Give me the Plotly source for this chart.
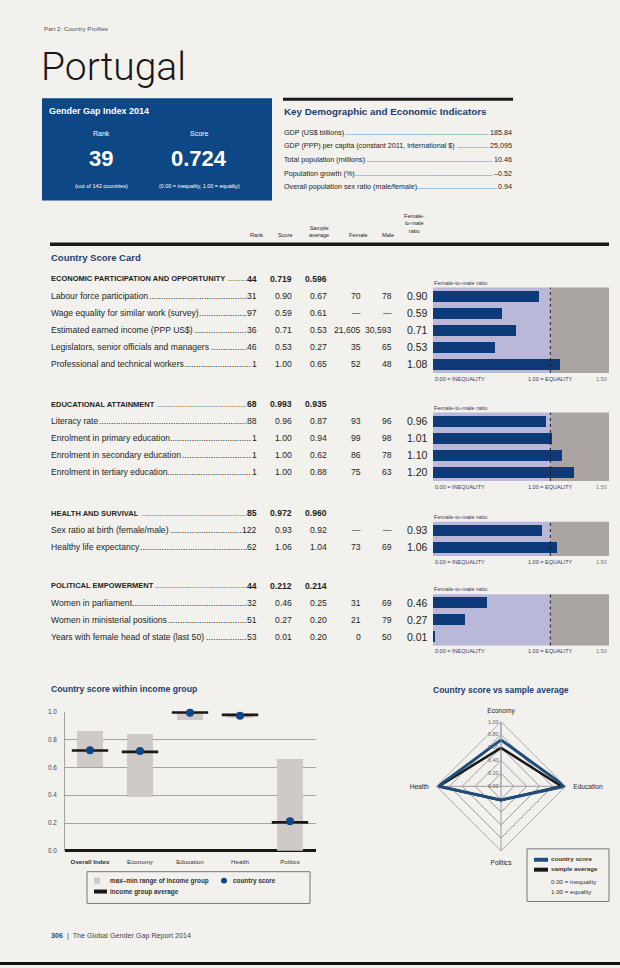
import plotly.graph_objects as go

W, H = 620, 968
BG = "#f2f1ee"
NAVY = "#0e4785"
BARNAVY = "#0d3b7a"
HEAD = "#1b3f6e"
TXT = "#231f20"
LAV = "#b9b8d8"
TAUPE = "#aaa4a2"
FONT = "Liberation Sans, Arial, sans-serif"

# ---------------- data ----------------
country = "Portugal"
ggi_rank = "39"
ggi_score = "0.724"

indicator_labels = ["GDP (US$ billions)", "GDP (PPP) per capita (constant 2011, international $)",
                    "Total population (millions)", "Population growth (%)",
                    "Overall population sex ratio (male/female)"]
indicator_values = ["185.84", "25,095", "10.46", "–0.52", "0.94"]

section_names = ["ECONOMIC PARTICIPATION AND OPPORTUNITY", "EDUCATIONAL ATTAINMENT",
                 "HEALTH AND SURVIVAL", "POLITICAL EMPOWERMENT"]
section_rank = ["44", "68", "85", "44"]
section_score = ["0.719", "0.993", "0.972", "0.212"]
section_avg = ["0.596", "0.935", "0.960", "0.214"]

econ_labels = ["Labour force participation", "Wage equality for similar work (survey)",
               "Estimated earned income (PPP US$)", "Legislators, senior officials and managers",
               "Professional and technical workers"]
econ_rank = ["31", "97", "36", "46", "1"]
econ_score = ["0.90", "0.59", "0.71", "0.53", "1.00"]
econ_avg = ["0.67", "0.61", "0.53", "0.27", "0.65"]
econ_female = ["70", "—", "21,605", "35", "52"]
econ_male = ["78", "—", "30,593", "65", "48"]
econ_ratio = [0.90, 0.59, 0.71, 0.53, 1.08]

edu_labels = ["Literacy rate", "Enrolment in primary education",
              "Enrolment in secondary education", "Enrolment in tertiary education"]
edu_rank = ["88", "1", "1", "1"]
edu_score = ["0.96", "1.00", "1.00", "1.00"]
edu_avg = ["0.87", "0.94", "0.62", "0.88"]
edu_female = ["93", "99", "86", "75"]
edu_male = ["96", "98", "78", "63"]
edu_ratio = [0.96, 1.01, 1.10, 1.20]

health_labels = ["Sex ratio at birth (female/male)", "Healthy life expectancy"]
health_rank = ["122", "62"]
health_score = ["0.93", "1.06"]
health_avg = ["0.92", "1.04"]
health_female = ["—", "73"]
health_male = ["—", "69"]
health_ratio = [0.93, 1.06]

pol_labels = ["Women in parliament", "Women in ministerial positions",
              "Years with female head of state (last 50)"]
pol_rank = ["32", "51", "53"]
pol_score = ["0.46", "0.27", "0.01"]
pol_avg = ["0.25", "0.20", "0.20"]
pol_female = ["31", "21", "0"]
pol_male = ["69", "79", "50"]
pol_ratio = [0.46, 0.27, 0.01]

# income group chart
ig_categories = ["Overall Index", "Economy", "Education", "Health", "Politics"]
ig_min = [0.607, 0.387, 0.944, 0.955, 0.0]
ig_max = [0.864, 0.845, 1.0, 0.988, 0.664]
ig_avg = [0.722, 0.712, 0.995, 0.978, 0.205]
ig_country = [0.724, 0.719, 0.993, 0.972, 0.212]

# radar
radar_axes = ["Economy", "Education", "Politics", "Health"]
radar_country = [0.719, 0.993, 0.212, 0.972]
radar_average = [0.596, 0.935, 0.214, 0.960]

# ---------------- text metrics (Arial / Liberation Sans, per 1000 em) ----------------
_REG = {" ": 278, "!": 278, "$": 556, "%": 889, "(": 333, ")": 333, ",": 278, "-": 333, ".": 278,
        "/": 278, ":": 278, "–": 556, "—": 1000,
        "A": 667, "B": 667, "C": 722, "D": 722, "E": 667, "F": 611, "G": 778, "H": 722, "I": 278,
        "J": 500, "K": 667, "L": 556, "M": 833, "N": 722, "O": 778, "P": 667, "Q": 778, "R": 722,
        "S": 667, "T": 611, "U": 722, "V": 667, "W": 944, "X": 667, "Y": 667, "Z": 611,
        "a": 556, "b": 556, "c": 500, "d": 556, "e": 556, "f": 278, "g": 556, "h": 556, "i": 222,
        "j": 222, "k": 500, "l": 222, "m": 833, "n": 556, "o": 556, "p": 556, "q": 556, "r": 333,
        "s": 500, "t": 278, "u": 556, "v": 500, "w": 722, "x": 500, "y": 500, "z": 500}
_BOLD = dict(_REG)
_BOLD.update({"A": 722, "B": 722, "J": 556, "K": 722, "L": 611, "(": 333, ")": 333})


def tw(s, size, bold=False):
    tab = _BOLD if bold else _REG
    return sum(tab.get(c, 556) for c in s) * size / 1000.0


# ---------------- helpers ----------------
ann = []
shapes = []


def px(x):
    return x / W


def py(y):
    return 1 - y / H


def txt(x, y, s, size, color=TXT, anchor="left", yanchor="middle", family=FONT, weight=None):
    f = dict(size=size, color=color, family=family)
    if weight:
        f["weight"] = weight
    ann.append(dict(x=px(x), y=py(y), xref="paper", yref="paper", text=s, showarrow=False,
                    xanchor=anchor, yanchor=yanchor, borderpad=0, font=f))


def rect(x0, y0, x1, y1, fill=None, line=None, lw=0, layer="below"):
    shapes.append(dict(type="rect", xref="paper", yref="paper", x0=px(x0), x1=px(x1),
                       y0=py(y1), y1=py(y0), fillcolor=fill or "rgba(0,0,0,0)",
                       line=dict(color=line or "rgba(0,0,0,0)", width=lw), layer=layer))


def hline(x0, x1, y, color, w):
    shapes.append(dict(type="line", xref="paper", yref="paper", x0=px(x0), x1=px(x1),
                       y0=py(y), y1=py(y), line=dict(color=color, width=w)))


def leader(x_label, x_right, y, label, value, size, bold=False, vsize=None, color=TXT):
    vsize = vsize or size
    lab = f"<b>{label}</b>" if bold else label
    val = f"<b>{value}</b>" if bold else value
    txt(x_label, y, lab, size, color=color, anchor="left")
    txt(x_right, y, val, vsize, color=color, anchor="right")
    lab_end = x_label + tw(label, size, bold) + 1.5
    val_start = x_right - tw(value, vsize, bold) - 0.8
    dot = tw(".", size, False)
    n = int((val_start - lab_end) / dot)
    if n > 0:
        txt(val_start, y, "." * n, size, color=color, anchor="right")


# ---------------- header ----------------
txt(43, 25, "Part 2: Country Profiles", 6.2, color="#55504f")
txt(40, 63, country, 39, color="#1a1717", family="Roboto, Liberation Sans, sans-serif", weight=300)

rect(42, 95, 272, 198, fill=NAVY)
txt(48, 108, "<b>Gender Gap Index 2014</b>", 9, color="white")
txt(101, 130, "Rank", 7, color="white", anchor="center")
txt(199, 130, "Score", 7, color="white", anchor="center")
txt(101, 156, f"<b>{ggi_rank}</b>", 22, color="white", anchor="center")
txt(199, 156, f"<b>{ggi_score}</b>", 22, color="white", anchor="center")
txt(101, 183, "(out of 142 countries)", 5.6, color="white", anchor="center")
txt(199, 183, "(0.00 = inequality, 1.00 = equality)", 5.4, color="white", anchor="center")

hline(283, 513, 96, "#1a1717", 3)
txt(283, 108, "<b>Key Demographic and Economic Indicators</b>", 9.8, color=HEAD)
for i, (l, v) in enumerate(zip(indicator_labels, indicator_values)):
    leader(283, 513, 129 + 13.8 * i, l, v, 7.2)

# ---------------- score card ----------------
hdr = 5.6
txt(256, 233, "Rank", hdr, anchor="center")
txt(285, 233, "Score", hdr, anchor="center")
txt(319, 229, "Sample<br>average", hdr, anchor="center")
txt(359, 233, "Female", hdr, anchor="center")
txt(388, 233, "Male", hdr, anchor="center")
txt(414, 221, "Female-<br>to-male<br>ratio", hdr, anchor="center")
hline(50, 609, 242, "#1a1717", 3.5)
txt(50, 255, "<b>Country Score Card</b>", 9.5, color=HEAD)

sections = [
    (econ_labels, econ_rank, econ_score, econ_avg, econ_female, econ_male, econ_ratio, 277),
    (edu_labels, edu_rank, edu_score, edu_avg, edu_female, edu_male, edu_ratio, 403),
    (health_labels, health_rank, health_score, health_avg, health_female, health_male, health_ratio, 513),
    (pol_labels, pol_rank, pol_score, pol_avg, pol_female, pol_male, pol_ratio, 586),
]
STEP = 17.2
FS = 8.6
traces = []
layout_axes = {}
for k, (labs, rk, sc, av, fe, ma, ra, y0) in enumerate(sections):
    leader(50, 258, y0, section_names[k], section_rank[k], 7.5, bold=True, vsize=FS)
    txt(293, y0, f"<b>{section_score[k]}</b>", FS, anchor="right")
    txt(328, y0, f"<b>{section_avg[k]}</b>", FS, anchor="right")
    n = len(labs)
    for i in range(n):
        y = y0 + STEP * (i + 1)
        leader(50, 258, y, labs[i], rk[i], FS)
        txt(293, y, sc[i], FS, anchor="right")
        txt(328, y, av[i], FS, anchor="right")
        txt(362, y, fe[i], FS, anchor="right")
        txt(393, y, ma[i], FS, anchor="right")
        txt(429, y, f"{ra[i]:.2f}", 10.5, anchor="right")
    # bar chart
    top = y0 + STEP - 8.6
    bot = y0 + STEP * n + 8.6
    ax = k + 1
    xn = "x" if ax == 1 else f"x{ax}"
    yn = "y" if ax == 1 else f"y{ax}"
    traces.append(go.Bar(x=ra, y=list(range(n)), orientation="h", width=0.64,
                         marker=dict(color=BARNAVY, line=dict(width=0)),
                         xaxis=xn, yaxis=yn, showlegend=False, hoverinfo="skip"))
    layout_axes["xaxis" if ax == 1 else f"xaxis{ax}"] = dict(
        domain=[px(433), px(609)], range=[0, 1.5], anchor=yn, visible=False, fixedrange=True)
    layout_axes["yaxis" if ax == 1 else f"yaxis{ax}"] = dict(
        domain=[py(bot), py(top)], range=[n - 0.5, -0.5], anchor=xn, visible=False, fixedrange=True)
    shapes.append(dict(type="rect", xref=xn, yref=f"{yn} domain", x0=0, x1=1, y0=0, y1=1,
                       fillcolor=LAV, line=dict(width=0), layer="below"))
    shapes.append(dict(type="rect", xref=xn, yref=f"{yn} domain", x0=1, x1=1.5, y0=0, y1=1,
                       fillcolor=TAUPE, line=dict(width=0), layer="below"))
    shapes.append(dict(type="line", xref=xn, yref=f"{yn} domain", x0=1, x1=1, y0=0, y1=1,
                       line=dict(color="#1a1717", width=1, dash="dot"), layer="above"))
    txt(433, top - 5, "Female-to-male ratio", 5.8, color="#3b3a55")
    for xv, lab, anc in [(0, "0.00 = INEQUALITY", "left"), (1, "1.00 = EQUALITY", "center"),
                         (1.5, "1.50", "right")]:
        ann.append(dict(x=xv, y=py(bot + 6), xref=xn, yref="paper", text=lab, showarrow=False,
                        xanchor=anc, yanchor="middle",
                        font=dict(size=5.5, color="#3b3a55" if xv < 1.5 else "#7a7878", family=FONT)))

# ---------------- income group chart ----------------
txt(50, 690, "<b>Country score within income group</b>", 8.7, color=HEAD)
traces.append(go.Bar(x=ig_categories, y=[a - b for a, b in zip(ig_max, ig_min)], base=ig_min,
                     width=0.52, marker=dict(color="#cfcac8", line=dict(width=0)),
                     xaxis="x5", yaxis="y5", showlegend=False, hoverinfo="skip"))
traces.append(go.Scatter(x=ig_categories, y=ig_avg, mode="markers",
                         marker=dict(symbol="line-ew", size=26, line=dict(color="#1a1717", width=2.6)),
                         xaxis="x5", yaxis="y5", showlegend=False, hoverinfo="skip", cliponaxis=False))
traces.append(go.Scatter(x=ig_categories, y=ig_country, mode="markers",
                         marker=dict(symbol="circle", size=8, color=NAVY, line=dict(width=0)),
                         xaxis="x5", yaxis="y5", showlegend=False, hoverinfo="skip", cliponaxis=False))
layout_axes["xaxis5"] = dict(domain=[px(65), px(316)], anchor="y5", range=[-0.5, 4.52],
                             tickmode="array", tickvals=ig_categories,
                             ticktext=["<b>Overall Index</b>"] + ig_categories[1:],
                             tickfont=dict(size=6.2, color="#333", family=FONT),
                             showline=False, ticks="", showgrid=False, fixedrange=True,
                             ticklabelstandoff=6)
layout_axes["yaxis5"] = dict(domain=[py(853), py(713)], anchor="x5", range=[0, 1.0],
                             tickvals=[0, 0.2, 0.4, 0.6, 0.8, 1.0],
                             ticktext=["0.0", "0.2", "0.4", "0.6", "0.8", "1.0"],
                             tickfont=dict(size=6.3, color="#444", family=FONT),
                             showgrid=True, gridcolor="#a3a3a3", gridwidth=1.2,
                             zeroline=True, zerolinecolor="#1a1717", zerolinewidth=3,
                             showline=True, linecolor="#a3a3a3", linewidth=1,
                             ticks="", ticklabelstandoff=6, fixedrange=True)

rect(87, 874, 310, 906, line="#77777a", lw=1)
rect(94, 880, 100, 886, fill="#cfcac8", layer="above")
txt(109, 883, "<b>max–min range of income group</b>", 6.4, color="#333")
shapes.append(dict(type="circle", xref="paper", yref="paper", x0=px(221), x1=px(227),
                   y0=py(886), y1=py(880), fillcolor=NAVY, line=dict(width=0)))
txt(232, 883, "<b>country score</b>", 6.4, color="#333")
rect(94, 892, 107, 896, fill="#1a1717", layer="above")
txt(109, 894, "<b>income group average</b>", 6.4, color="#333")

# ---------------- radar ----------------
txt(501, 691, "<b>Country score vs sample average</b>", 8.5, color=HEAD, anchor="center")
traces.append(go.Scatterpolar(r=radar_average + radar_average[:1], theta=radar_axes + radar_axes[:1],
                              mode="lines", line=dict(color="#1a1717", width=2.5),
                              showlegend=False, hoverinfo="skip", subplot="polar"))
traces.append(go.Scatterpolar(r=radar_country + radar_country[:1], theta=radar_axes + radar_axes[:1],
                              mode="lines", line=dict(color="#1f4c7c", width=3),
                              showlegend=False, hoverinfo="skip", subplot="polar"))
polar = dict(
    domain=dict(x=[px(436), px(566)], y=[py(853), py(723)]),
    bgcolor="rgba(0,0,0,0)", gridshape="linear",
    radialaxis=dict(range=[0, 1], tickvals=[0, 0.2, 0.4, 0.6, 0.8, 1.0],
                    ticktext=["0.00", "0.20", "0.40", "0.60", "0.80", "1.00"],
                    angle=90, tickangle=90, side="counterclockwise",
                    tickfont=dict(size=5.5, color="#666", family=FONT),
                    gridcolor="#9c9c9c", gridwidth=0.8, showline=True, linecolor="#9c9c9c",
                    linewidth=0.8, ticks=""),
    angularaxis=dict(categoryorder="array", categoryarray=radar_axes, rotation=90,
                     direction="clockwise", tickfont=dict(size=6.6, color="#2a2626", family=FONT),
                     gridcolor="#9c9c9c", gridwidth=0.8, linecolor="#9c9c9c", linewidth=0.8,
                     ticks="outside", ticklen=6, tickcolor="rgba(0,0,0,0)"),
)

rect(527, 851, 609, 904, line="#77777a", lw=1)
rect(534, 860, 548, 864, fill="#1f4c7c", layer="above")
txt(550, 861, "<b>country score</b>", 6.2, color="#333")
rect(534, 870, 548, 874, fill="#1a1717", layer="above")
txt(550, 871, "<b>sample average</b>", 6.2, color="#333")
txt(550, 884, "0.00 = inequality", 6.2, color="#333")
txt(550, 894, "1.00 = equality", 6.2, color="#333")

# ---------------- footer ----------------
txt(50, 938, "<b>306</b>  |  The Global Gender Gap Report 2014", 7.2, color="#444")
rect(0, 965, 620, 968, fill="#111111", layer="above")

fig = go.Figure(data=traces)
fig.update_layout(width=W, height=H, margin=dict(l=0, r=0, t=0, b=0),
                  paper_bgcolor=BG, plot_bgcolor="rgba(0,0,0,0)",
                  font=dict(family=FONT, color=TXT), showlegend=False,
                  annotations=ann, shapes=shapes, polar=polar, bargap=0,
                  **layout_axes)
fig.write_html("out.html", config={"displayModeBar": False},
               post_script="document.body.style.margin='0px';document.body.style.overflow='hidden';")
